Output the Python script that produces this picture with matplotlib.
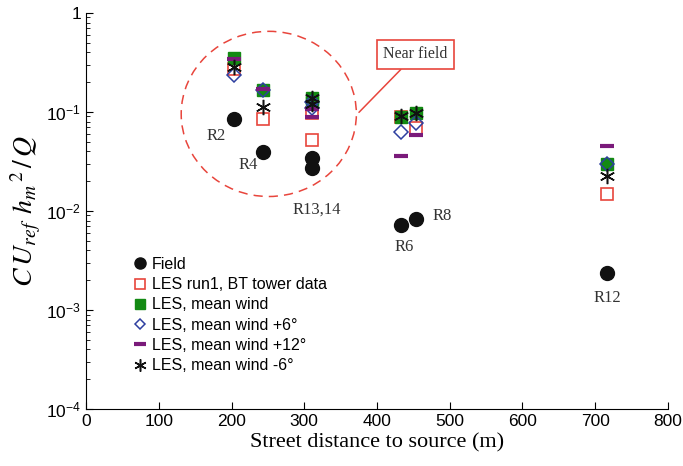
import numpy as np
import matplotlib
matplotlib.use('Agg')
import matplotlib.pyplot as plt
from matplotlib.patches import Ellipse

plt.rcParams['font.family'] = ['Liberation Sans', 'DejaVu Sans']
plt.rcParams['mathtext.fontset'] = 'custom'
plt.rcParams['mathtext.rm'] = 'Liberation Sans'
plt.rcParams['mathtext.it'] = 'Liberation Sans:italic'

# street distance of each receptor (m); R13 and R14 share x = 311
x_field = [203, 243, 311, 311, 433, 453, 716]
field = [0.084, 0.039, 0.034, 0.027, 0.0072, 0.0082, 0.00238]

x_les = [203, 243, 311, 311, 433, 453, 716]
les_run1 = [0.27, 0.084, 0.098, 0.052, 0.088, 0.069, 0.0147]
les_mean = [0.35, 0.167, 0.137, 0.125, 0.088, 0.097, 0.030]
les_p6 = [0.237, 0.167, 0.109, 0.125, 0.062, 0.078, 0.0296]
les_p12 = [0.34, 0.169, 0.106, 0.088, 0.0356, 0.0586, 0.0454]
les_m6 = [0.287, 0.111, 0.137, 0.120, 0.090, 0.097, 0.0227]

labels = ['R2', 'R4', 'R13,14', 'R6', 'R8', 'R12']
label_x = [179, 223, 317, 437, 489, 717]
label_y = [0.057, 0.029, 0.0102, 0.0043, 0.0089, 0.00133]

red = '#e8453c'

fig = plt.figure(figsize=(6.83, 4.66), dpi=100)
ax = fig.add_axes([0.126, 0.1223, 0.852, 0.85])

ax.plot(x_field, field, 'o', color='#111111', ms=10, ls='none', label='Field')
ax.plot(x_les, les_run1, 's', mfc='white', mec=red, mew=1.2, ms=9, ls='none',
        label='LES run1, BT tower data')
ax.plot(x_les, les_mean, 's', color='#138a13', ms=9, ls='none', label='LES, mean wind')
ax.plot(x_les, les_p6, 'D', mfc='none', mec='#2e3fa0', mew=1.1, ms=7, ls='none',
        label='LES, mean wind +6\u00b0')
ax.plot(x_les, les_p12, '_', color='#7a1a7a', mew=3, ms=10, ls='none',
        label='LES, mean wind +12\u00b0')
ax.plot(x_les, les_m6, marker=(6, 2, 0), color='#111111', mew=1.1, ms=11, ls='none',
        label='LES, mean wind -6\u00b0')

ax.set_yscale('log')
ax.set_xlim(0, 800)
ax.set_ylim(1e-4, 1)
ax.set_xticks(np.arange(0, 801, 100))
ax.set_yticks([1e-4, 1e-3, 1e-2, 1e-1, 1])
ax.set_yticklabels(['10$^{-4}$', '10$^{-3}$', '10$^{-2}$', '10$^{-1}$', '1'])
ax.tick_params(direction='in', labelsize=12.5, length=5, width=0.8)
ax.tick_params(which='minor', direction='in', length=3, width=0.6)
ax.spines['top'].set_visible(False)
ax.spines['right'].set_visible(False)

ax.set_xlabel('Street distance to source (m)', family='Liberation Serif', fontsize=16,
              labelpad=3)
ax.set_ylabel(r'$C\,U_{ref}\;\,h_m{}^{\,2}\,/\,Q$', fontsize=20, math_fontfamily='stix',
              labelpad=2)

for t, lx, ly in zip(labels, label_x, label_y):
    ax.text(lx, ly, t, family='Liberation Serif', fontsize=12, color='#333333',
            ha='center', va='center')

# near-field circle and callout
ax.add_patch(Ellipse((0.314, 0.745), 0.301, 0.417, transform=ax.transAxes,
                     fill=False, ec=red, ls=(0, (6, 4)), lw=1.1))
ax.annotate('Near field', xy=(0.469, 0.749), xycoords='axes fraction',
            xytext=(0.566, 0.895), textcoords='axes fraction',
            ha='center', va='center', family='Liberation Serif', fontsize=11.5, color='#333333',
            bbox=dict(boxstyle='square,pad=0.4', fc='white', ec=red, lw=1.2),
            arrowprops=dict(arrowstyle='-', color=red, lw=1.1, shrinkA=0, shrinkB=0))

ax.legend(loc='upper left', bbox_to_anchor=(0.07, 0.40), frameon=False,
          fontsize=11.5, handlelength=0.8, handletextpad=0.35, labelspacing=0.33,
          borderaxespad=0, markerscale=0.8)

fig.savefig('out.png', dpi=100)
